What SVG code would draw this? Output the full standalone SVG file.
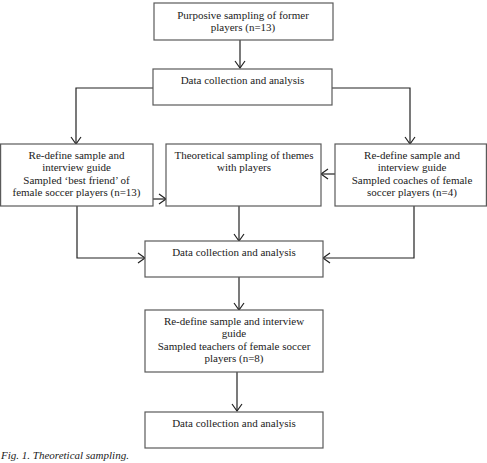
<svg xmlns="http://www.w3.org/2000/svg" width="487" height="463" viewBox="0 0 487 463">
<style>
.box{fill:#fff;stroke:#5a5a5a;stroke-width:1.2}
.t{font-family:"Liberation Serif","Times New Roman",serif;font-size:11px;fill:#222;text-anchor:middle}
.cap{font-family:"Liberation Serif","Times New Roman",serif;font-size:11px;font-style:italic;fill:#222}
.c{fill:none;stroke:#222;stroke-width:1.2}
</style>
<defs>
<marker id="ah" markerUnits="userSpaceOnUse" markerWidth="12" markerHeight="12" viewBox="0 0 12 12" refX="8" refY="6" orient="auto" overflow="visible">
<path d="M1,1 L8,6 L1,11" fill="none" stroke="#222" stroke-width="1.2"/>
</marker>
</defs>
<rect width="487" height="463" fill="#fff"/>
<g id="connectors">
<path class="c" d="M240,40 V68" marker-end="url(#ah)"/>
<path class="c" d="M153,88 H76 V144" marker-end="url(#ah)"/>
<path class="c" d="M332,88 H410 V144" marker-end="url(#ah)"/>
<path class="c" d="M153,199 H166" marker-end="url(#ah)"/>
<path class="c" d="M335,174 H321" marker-end="url(#ah)"/>
<path class="c" d="M239,206 V241" marker-end="url(#ah)"/>
<path class="c" d="M77,206 V258 H145" marker-end="url(#ah)"/>
<path class="c" d="M414,206 V258 H323" marker-end="url(#ah)"/>
<path class="c" d="M239,277 V310" marker-end="url(#ah)"/>
<path class="c" d="M237,372 V411" marker-end="url(#ah)"/>
</g>
<g id="n1">
<rect class="box" x="154" y="3" width="179" height="37"/>
<text class="t" x="243" y="19">Purposive sampling of former</text>
<text class="t" x="243" y="31">players (n=13)</text>
</g>
<g id="n2">
<rect class="box" x="153" y="69" width="179" height="36"/>
<text class="t" x="242.5" y="84">Data collection and analysis</text>
</g>
<g id="n3">
<rect class="box" x="0.6" y="144" width="152.4" height="62"/>
<text class="t" x="76.5" y="159">Re-define sample and</text>
<text class="t" x="76.5" y="171">interview guide</text>
<text class="t" x="76.5" y="184">Sampled ‘best friend’ of</text>
<text class="t" x="76.5" y="196">female soccer players (n=13)</text>
</g>
<g id="n4">
<rect class="box" x="166" y="144" width="155" height="62"/>
<text class="t" x="244" y="159">Theoretical sampling of themes</text>
<text class="t" x="244" y="171">with players</text>
</g>
<g id="n5">
<rect class="box" x="335" y="144" width="151.4" height="62"/>
<text class="t" x="412" y="159">Re-define sample and</text>
<text class="t" x="412" y="171">interview guide</text>
<text class="t" x="412" y="184">Sampled coaches of female</text>
<text class="t" x="412" y="196">soccer players (n=4)</text>
</g>
<g id="n6">
<rect class="box" x="145" y="241" width="178" height="36"/>
<text class="t" x="234" y="256">Data collection and analysis</text>
</g>
<g id="n7">
<rect class="box" x="145" y="310" width="178" height="62"/>
<text class="t" x="234" y="325">Re-define sample and interview</text>
<text class="t" x="234" y="337">guide</text>
<text class="t" x="234" y="350">Sampled teachers of female soccer</text>
<text class="t" x="234" y="362">players (n=8)</text>
</g>
<g id="n8">
<rect class="box" x="145" y="412" width="178" height="36"/>
<text class="t" x="234" y="427">Data collection and analysis</text>
</g>
<text class="cap" x="1" y="459">Fig. 1. Theoretical sampling.</text>
</svg>
